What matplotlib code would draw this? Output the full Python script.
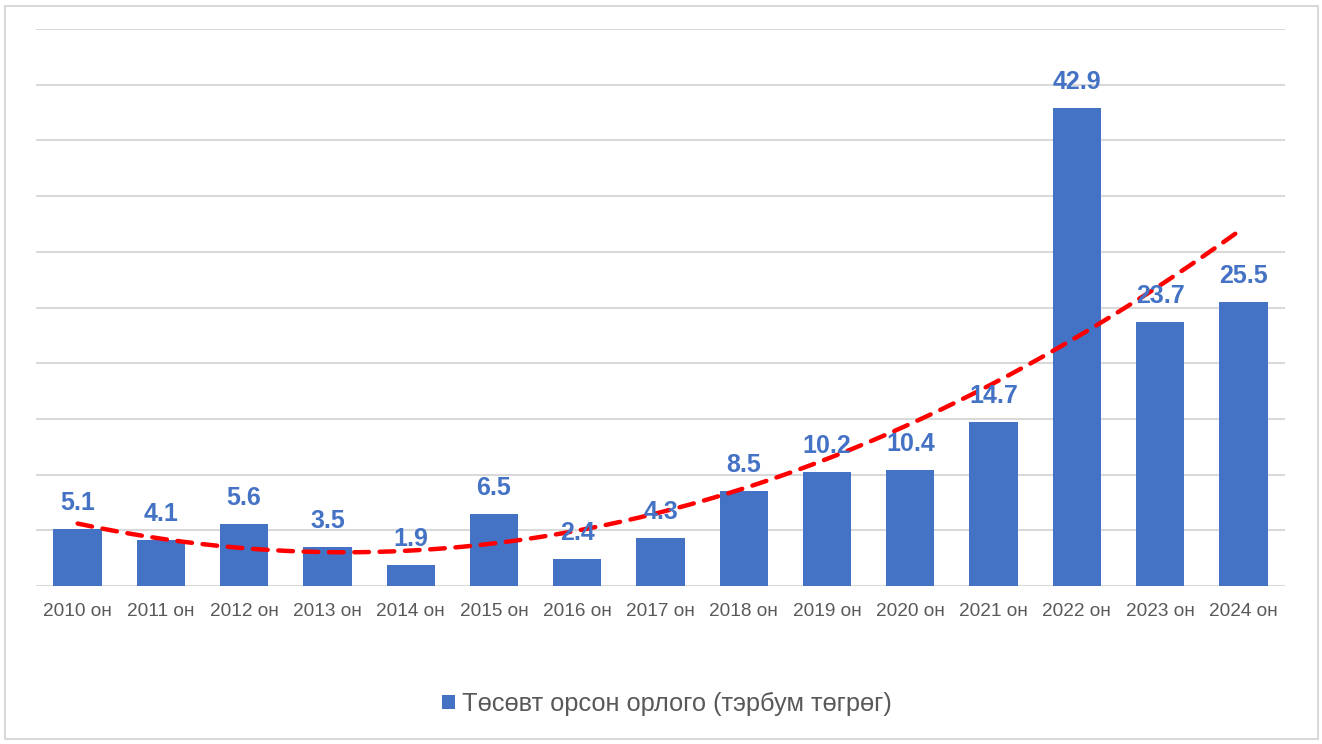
import numpy as np
import matplotlib
matplotlib.use("Agg")
import matplotlib.pyplot as plt
from matplotlib.patches import Rectangle

plt.rcParams['font.family'] = ['Liberation Sans', 'DejaVu Sans']

categories = ["2010 он", "2011 он", "2012 он", "2013 он", "2014 он", "2015 он", "2016 он",
              "2017 он", "2018 он", "2019 он", "2020 он", "2021 он", "2022 он", "2023 он", "2024 он"]
values = [5.1, 4.1, 5.6, 3.5, 1.9, 6.5, 2.4, 4.3, 8.5, 10.2, 10.4, 14.7, 42.9, 23.7, 25.5]
series_name = "Төсөвт орсон орлого (тэрбум төгрөг)"

W, H = 1322, 744
fig = plt.figure(figsize=(W / 100, H / 100), dpi=100)
ax = fig.add_axes([36 / W, (H - 586) / H, (1285 - 36) / W, (586 - 29) / H])

x = np.arange(len(values))
blue = "#4472C4"
ax.bar(x, values, width=0.58, color=blue, zorder=3, label=series_name)

for xi, v in zip(x, values):
    ax.annotate(f"{v:.1f}", (xi, v), xytext=(0, 10), textcoords="offset points",
                ha="center", va="bottom", fontsize=18, fontweight="bold", color=blue, zorder=5)

# polynomial (order 2) trendline
coef = np.polyfit(x + 1, values, 2)
xs = np.linspace(0, len(values) - 1, 200)
ys = np.polyval(coef, xs + 1)
ax.plot(xs, ys, color="#FF0000", lw=3.2, linestyle=(0, (3.3, 2.4)),
        dash_capstyle="round", zorder=4)

ax.set_xlim(-0.5, len(values) - 0.5)
ax.set_ylim(0, 50)
ax.set_yticks(np.arange(0, 51, 5))
ax.yaxis.grid(True, color="#D9D9D9", lw=1.5, zorder=0)
ax.tick_params(axis="y", left=False, labelleft=False)
ax.set_xticks(x)
ax.set_xticklabels(categories, fontsize=13.7, color="#595959")
ax.tick_params(axis="x", length=0, pad=12)
for s in ax.spines.values():
    s.set_visible(False)

leg = fig.legend(loc="center", bbox_to_anchor=(0.5 + 6 / W, (H - 704) / H), frameon=False,
                 fontsize=18.3, handlelength=0.52, handleheight=0.52, handletextpad=0.25,
                 labelcolor="#595959")

fig.patches.append(Rectangle((4.5 / W, 5.5 / H), (1313 / W), (733 / H), transform=fig.transFigure,
                             fill=False, edgecolor="#D9D9D9", lw=1.5))

fig.savefig("out.png", dpi=100, facecolor="white")
